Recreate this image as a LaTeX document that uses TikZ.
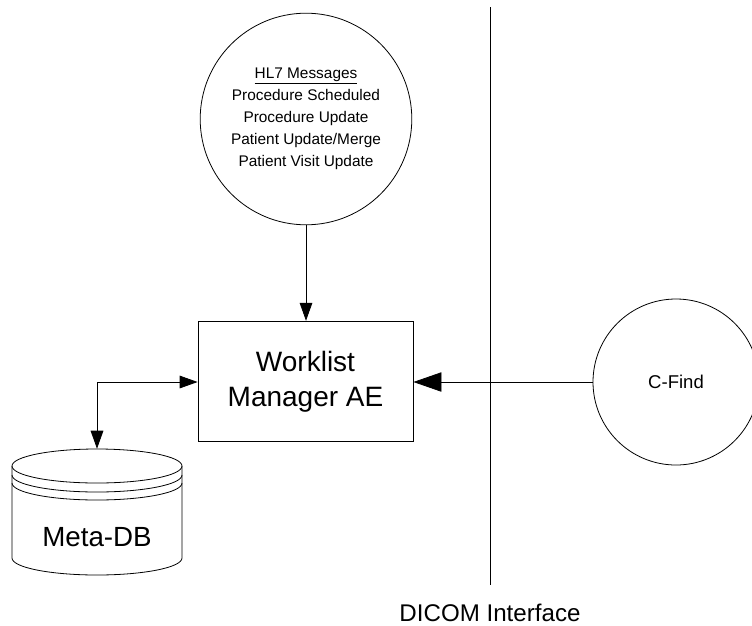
\documentclass[tikz,border=0pt]{standalone}
\usepackage{fontspec}
\setmainfont{Liberation Sans}
\usetikzlibrary{arrows.meta}
\tikzset{
  every picture/.style={x=0.75pt,y=-0.75pt},
  ln/.style={draw=black,line width=0.6pt},
  round/.style={circle,ln,inner sep=0pt},
  tip/.style={-{Triangle[length=13.5pt,width=9.5pt]}},
  bigtip/.style={-{Triangle[length=21pt,width=14.5pt]}},
  lbl/.style={inner sep=0pt,align=center},
}
\begin{document}
\begin{tikzpicture}
\useasboundingbox (0,0) rectangle (752,625);
\begin{scope}
\clip (0,0) rectangle (752,625);
\node[round,minimum size=158.7pt,font=\fontsize{11.55pt}{16.5pt}\selectfont,lbl,draw] (hl7) at (306,119) {\underline{HL7 Messages}\\Procedure Scheduled\\Procedure Update\\Patient Update/Merge\\Patient Visit Update};
\node[round,minimum size=124.5pt,font=\fontsize{13.9pt}{16pt}\selectfont] (cfind) at (676,382) {C-Find};
\end{scope}
\node[ln,draw,minimum width=161.25pt,minimum height=90.5pt,inner sep=0pt,font=\fontsize{21pt}{26.5pt}\selectfont,align=center] (wm) at (305.5,381.5) {Worklist\\Manager AE};
% database
\node[minimum width=127.5pt,minimum height=94.5pt,inner sep=0pt] (db) at (97,512) {};
\draw[ln] (12,466) arc[start angle=180,end angle=360,x radius=85,y radius=17]
  -- (182,558) arc[start angle=0,end angle=180,x radius=85,y radius=17] -- cycle;
\draw[ln] (12,466) arc[start angle=180,end angle=0,x radius=85,y radius=17];
\draw[ln] (12,475) arc[start angle=180,end angle=0,x radius=85,y radius=17];
\draw[ln] (12,483) arc[start angle=180,end angle=0,x radius=85,y radius=17];
\node[lbl,font=\fontsize{20.8pt}{24pt}\selectfont] (dblabel) at (97,537) {Meta-DB};
% divider
\coordinate (divtop) at (490,7);
\coordinate (divbot) at (490,585);
\draw[ln] (divtop) -- (divbot);
\node[lbl,font=\fontsize{18.1pt}{22pt}\selectfont] (dicom) at (490,613) {DICOM Interface};
% connectors
\draw[ln,tip] (hl7.south) -- (hl7.south |- wm.north);
\draw[ln,bigtip] (cfind.west) -- (wm.east |- cfind.west);
\coordinate (corner) at (97,382);
\draw[ln,tip] (corner) -- (wm.west |- corner);
\draw[ln,tip] (corner) -- (db.north);
\end{tikzpicture}
\end{document}
